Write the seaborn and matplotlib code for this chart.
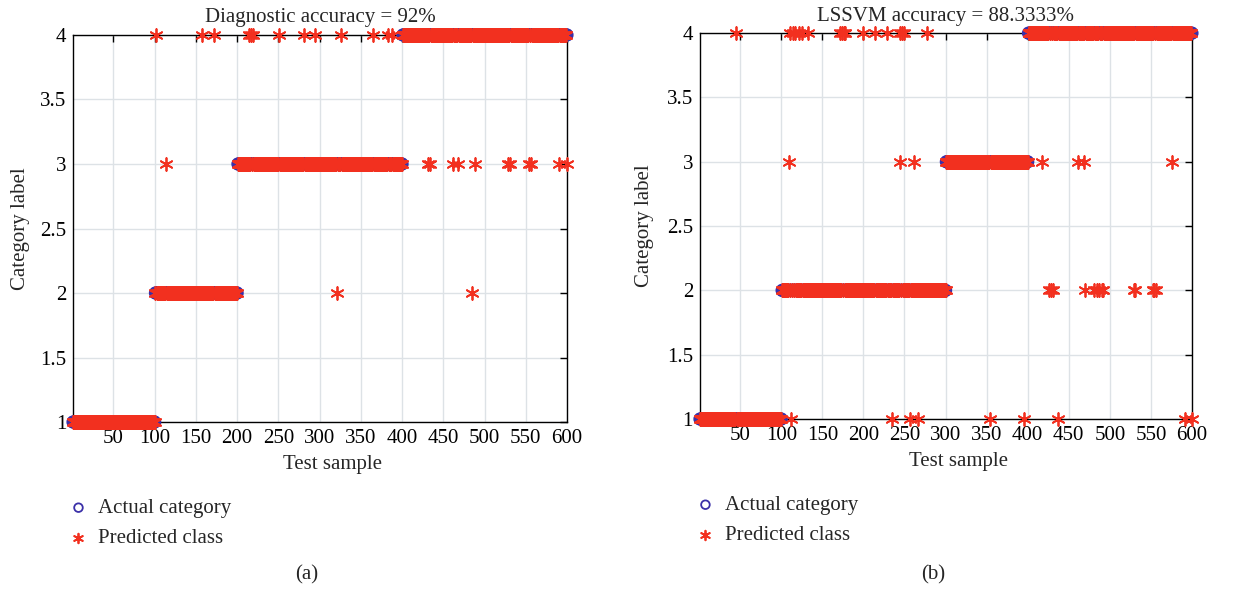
import numpy as np
import pandas as pd
import matplotlib
matplotlib.use("Agg")
import matplotlib.pyplot as plt
import seaborn as sns

# class sizes for the 600 test samples (labels 1..4)
class_labels = [1, 2, 3, 4]
sizes_a = [100, 100, 200, 200]
sizes_b = [100, 200, 100, 200]

# misclassified samples (sample index, predicted label)
wrong_a_idx = [102, 158, 172, 215, 217, 219, 251, 281, 295, 326, 365, 383, 388,
               114, 432, 434, 462, 468, 488, 529, 531, 554, 556, 590, 600,
               321, 485]
wrong_a_pred = [4, 4, 4, 4, 4, 4, 4, 4, 4, 4, 4, 4, 4,
                3, 3, 3, 3, 3, 3, 3, 3, 3, 3, 3, 3,
                2, 2]

wrong_b_idx = [45, 110, 114, 117, 121, 125, 132, 172, 174, 176, 178, 200, 214, 229, 245, 247, 249, 278,
               109, 244, 262, 417, 461, 469, 576,
               426, 428, 431, 470, 481, 484, 487, 490, 492, 529, 531, 552, 554, 556,
               112, 235, 257, 267, 354, 395, 437, 591, 600]
wrong_b_pred = [4] * 18 + [3] * 7 + [2] * 14 + [1] * 9

titles = ["Diagnostic accuracy = 92%", "LSSVM accuracy = 88.3333%"]
panel_tags = ["(a)", "(b)"]


def build_frame(sizes, idx, pred):
    actual = np.repeat(class_labels, sizes)
    predicted = actual.copy()
    predicted[np.array(idx) - 1] = pred
    return pd.DataFrame({"sample": np.arange(1, len(actual) + 1),
                         "actual": actual, "predicted": predicted})


sns.set_style("white")
plt.rcParams["font.family"] = ["Liberation Serif", "DejaVu Serif"]
plt.rcParams["font.size"] = 15

fig = plt.figure(figsize=(12.42, 5.9), dpi=100)
ax_a = fig.add_axes([0.0588, 0.2847, 0.3977, 0.656])
ax_b = fig.add_axes([0.5636, 0.2898, 0.3961, 0.654])

frames = [build_frame(sizes_a, wrong_a_idx, wrong_a_pred),
          build_frame(sizes_b, wrong_b_idx, wrong_b_pred)]
legend_pos = [(0.0548, 0.155), (0.5596, 0.160)]
tag_pos = [(307 / 1242, 1 - 575 / 590), (933 / 1242, 1 - 575 / 590)]
ylab_x = [-0.107, -0.112]

for i, (ax, df) in enumerate(zip([ax_a, ax_b], frames)):
    sns.scatterplot(data=df, x="sample", y="actual", ax=ax, marker="o", s=68,
                    facecolors="none", edgecolor="#3b30a8", linewidth=1.3,
                    clip_on=False, zorder=3, label="Actual category", legend=False)
    sns.scatterplot(data=df, x="sample", y="predicted", ax=ax, marker=(6, 2, 0), s=85,
                    color="#f2301f", linewidth=1.3, clip_on=False, zorder=4,
                    label="Predicted class", legend=False)

    ax.set_xlim(1, 600)
    ax.set_ylim(1, 4)
    ax.set_xticks(np.arange(50, 601, 50))
    ax.set_yticks(np.arange(1, 4.01, 0.5))
    ax.set_yticklabels([f"{v:g}" for v in np.arange(1, 4.01, 0.5)])
    ax.grid(True, color="#dde2e6", linewidth=1)
    ax.tick_params(direction="in", length=5, width=1, top=True, right=True,
                   labelsize=15, pad=5, colors="black")
    for sp in ax.spines.values():
        sp.set_visible(True)
        sp.set_color("black")
        sp.set_linewidth(1)

    ax.set_title(titles[i], fontsize=15, pad=9)
    ax.set_xlabel("Test sample", fontsize=15)
    ax.xaxis.set_label_coords(0.526, -0.085)
    ax.set_ylabel("Category label", fontsize=15, va="center")
    ax.yaxis.set_label_coords(ylab_x[i], 0.5)

    handles, labels = ax.get_legend_handles_labels()
    ax.legend(handles, labels, loc="upper left", bbox_to_anchor=legend_pos[i],
              bbox_transform=fig.transFigure, frameon=False, fontsize=15,
              handlelength=1.0, handletextpad=0.45, labelspacing=0.5,
              borderpad=0, borderaxespad=0, markerscale=0.75)

    fig.text(tag_pos[i][0], tag_pos[i][1], panel_tags[i], ha="center", va="center",
             fontsize=15)

fig.savefig("out.png", dpi=100)
